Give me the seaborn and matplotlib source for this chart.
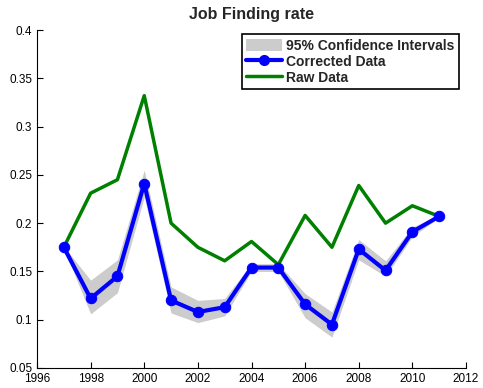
import matplotlib
matplotlib.use("Agg")
import matplotlib.pyplot as plt
import seaborn as sns
import pandas as pd
from matplotlib.patches import Patch
from matplotlib.lines import Line2D

years = [1997, 1998, 1999, 2000, 2001, 2002, 2003, 2004, 2005, 2006, 2007, 2008, 2009, 2010, 2011]
corrected = [0.175, 0.122, 0.145, 0.241, 0.120, 0.108, 0.113, 0.154, 0.154, 0.116, 0.095, 0.173, 0.151, 0.191, 0.207]
raw = [0.175, 0.231, 0.245, 0.332, 0.200, 0.175, 0.161, 0.181, 0.157, 0.208, 0.175, 0.239, 0.200, 0.218, 0.207]
ci_upper = [0.176, 0.141, 0.162, 0.255, 0.134, 0.120, 0.122, 0.158, 0.158, 0.127, 0.108, 0.183, 0.161, 0.196, 0.208]
ci_lower = [0.174, 0.106, 0.128, 0.227, 0.107, 0.097, 0.104, 0.150, 0.150, 0.102, 0.082, 0.162, 0.145, 0.186, 0.206]

df = pd.DataFrame({"year": years, "corrected": corrected, "raw": raw,
                   "lo": ci_lower, "hi": ci_upper})

sns.set_style("white")
plt.rcParams['font.family'] = ['Liberation Sans', 'DejaVu Sans']

fig = plt.figure(figsize=(4.83, 3.88), dpi=100)
ax = fig.add_axes([37/483, 1 - 368/388, (466-37)/483, (368-30)/388])

ax.fill_between(df["year"], df["lo"], df["hi"], color="#cccccc", linewidth=0, zorder=1)
sns.lineplot(data=df, x="year", y="corrected", ax=ax, color="#0000ff", linewidth=3,
             marker="o", markersize=7.5, markeredgecolor="#0000ff", zorder=3)
sns.lineplot(data=df, x="year", y="raw", ax=ax, color="#008000", linewidth=2.5, zorder=2)

ax.set_xlim(1996, 2012)
ax.set_ylim(0.05, 0.4)
ax.set_xticks(range(1996, 2013, 2))
ax.set_yticks([0.05, 0.1, 0.15, 0.2, 0.25, 0.3, 0.35, 0.4])
ax.set_yticklabels(["0.05", "0.1", "0.15", "0.2", "0.25", "0.3", "0.35", "0.4"])
ax.set_xlabel("")
ax.set_ylabel("")
ax.tick_params(direction="in", length=4, width=0.8, labelsize=8.5, colors="black",
               left=True, bottom=True)
for s in ["top", "right"]:
    ax.spines[s].set_visible(False)
for s in ["left", "bottom"]:
    ax.spines[s].set_color("black")
    ax.spines[s].set_linewidth(0.8)

ax.set_title("Job Finding rate", fontsize=11.5, fontweight="bold", pad=8)

handles = [Patch(facecolor="#cccccc", edgecolor="none"),
           Line2D([], [], color="#0000ff", linewidth=3, marker="o", markersize=7),
           Line2D([], [], color="#008000", linewidth=2.5)]
labels = ["95% Confidence Intervals", "Corrected Data", "Raw Data"]
leg = ax.legend(handles, labels, loc="upper right", bbox_to_anchor=(0.99, 0.995),
                prop={"weight": "bold", "size": 10}, frameon=True, fancybox=False,
                edgecolor="black", framealpha=1, borderpad=0.3, labelspacing=0.15,
                handlelength=2.6, handleheight=1.0, handletextpad=0.3, borderaxespad=0.2)
leg.get_frame().set_linewidth(1.2)

fig.savefig("out.png", dpi=100)
